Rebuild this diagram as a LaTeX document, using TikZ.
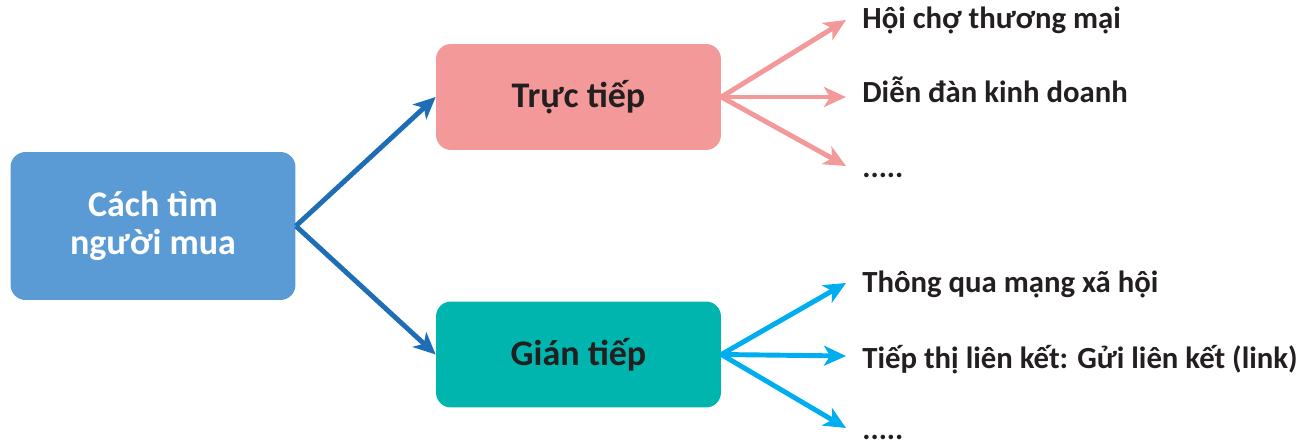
\documentclass[tikz,border=0pt]{standalone}
\usepackage{fontspec}
\setmainfont{Carlito}
\usepackage{tikz}
\usepackage{xcolor}
\usetikzlibrary{arrows.meta}

\definecolor{boxblue}{HTML}{5B9BD5}
\definecolor{boxpink}{HTML}{F4999A}
\definecolor{boxteal}{HTML}{00B5AD}
\definecolor{arrblue}{HTML}{1F6DB4}
\definecolor{arrcyan}{HTML}{00AEEF}
\definecolor{txt}{HTML}{231F20}

\begin{document}
\begin{tikzpicture}[x=0.02cm,y=-0.02cm]
	\tikzstyle{box} = [rounded corners=0.3cm, minimum width=5.7cm, minimum height=2.12cm, inner sep=0, align=center, font=\bfseries\fontsize{20.5}{21.5}\selectfont]
	\tikzstyle{item} = [anchor=base west, inner sep=0, text=txt, font=\bfseries\fontsize{17.5}{20}\selectfont]
	\tikzstyle{arr} = [line width=2.8pt, -{Stealth[length=0.44cm, width=0.4cm, inset=0.12cm]}]
	\useasboundingbox (0,0) rectangle (1306,446);

		\node[box, fill=boxblue, text=white, minimum height=2.96cm] (buyer) at (153,226) {Cách tìm\\người mua};
		\node[box, fill=boxpink, text=txt] (direct) at (578.5,97) {Trực tiếp};
		\node[box, fill=boxteal, text=txt] (indirect) at (578.5,354.5) {Gián tiếp};

		\node[item] (fair) at (862,29) {Hội chợ thương mại};
		\node[item] (forum) at (862,103) {Diễn đàn kinh doanh};
		\node[item] (dots1) at (862,177) {.....};
		\node[item] (social) at (862,293) {Thông qua mạng xã hội};
		\node[item] (affil) at (862,368) {Tiếp thị liên kết: Gửi liên kết (link)};
		\node[item] (dots2) at (862,439) {.....};

		\coordinate (t1) at (846,20);
		\coordinate (t2) at (846,97);
		\coordinate (t3) at (846,166);
		\coordinate (t4) at (846,283);
		\coordinate (t5) at (846,356);
		\coordinate (t6) at (846,428);

		\draw[arr, arrblue] (buyer.east) -- (direct.west);
		\draw[arr, arrblue] (buyer.east) -- (indirect.west);
		\draw[arr, boxpink] (direct.east) -- (t1);
		\draw[arr, boxpink] (direct.east) -- (t2);
		\draw[arr, boxpink] (direct.east) -- (t3);
		\draw[arr, arrcyan] (indirect.east) -- (t4);
		\draw[arr, arrcyan] (indirect.east) -- (t5);
		\draw[arr, arrcyan] (indirect.east) -- (t6);
	\end{tikzpicture}
\end{document}
